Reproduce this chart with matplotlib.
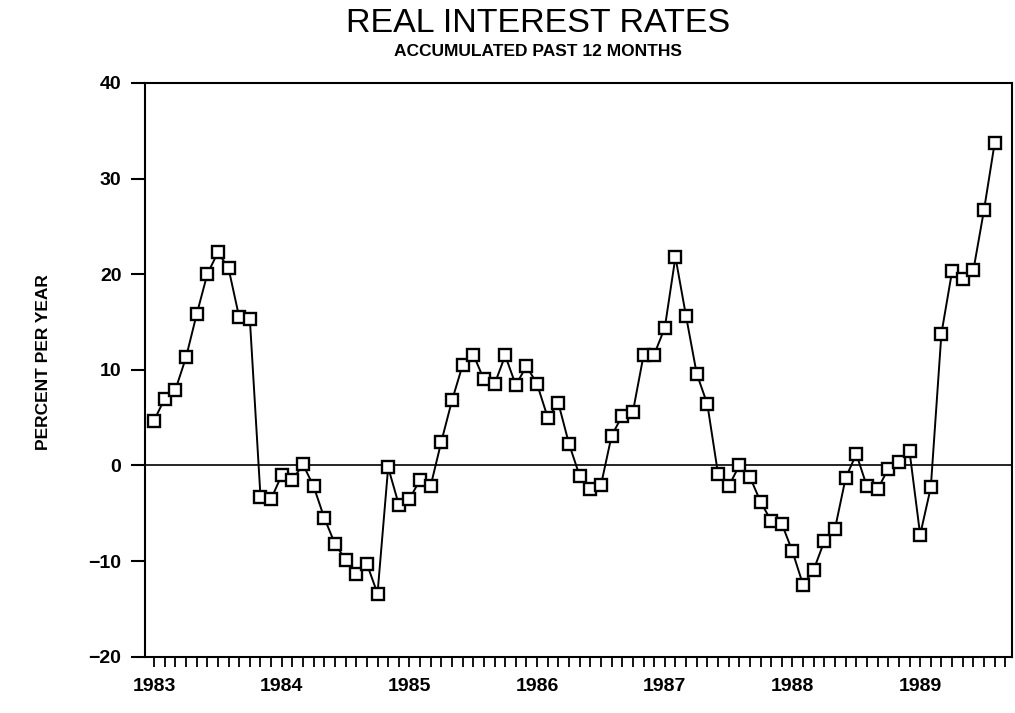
import numpy as np
import matplotlib
matplotlib.use("Agg")
import matplotlib.pyplot as plt
from matplotlib.ticker import FixedLocator

plt.rcParams['font.family'] = ['Liberation Sans', 'DejaVu Sans']

# Monthly real interest rate, accumulated over the past 12 months (Jan 1983 - Aug 1989)
years = ["1983", "1984", "1985", "1986", "1987", "1988", "1989"]
rate_1983 = [4.7, 7.0, 7.9, 11.3, 15.8, 20.0, 22.3, 20.6, 15.5, 15.3, -3.25, -3.5]
rate_1984 = [-1.0, -1.5, 0.1, -2.2, -5.5, -8.2, -9.85, -11.4, -10.3, -13.4, -0.2, -4.1]
rate_1985 = [-3.5, -1.5, -2.1, 2.5, 6.8, 10.5, 11.6, 9.0, 8.5, 11.5, 8.4, 10.4]
rate_1986 = [8.5, 5.0, 6.5, 2.25, -1.1, -2.5, -2.05, 3.1, 5.2, 5.6, 11.5, 11.6]
rate_1987 = [14.4, 21.8, 15.6, 9.6, 6.4, -0.85, -2.2, 0.0, -1.2, -3.8, -5.8, -6.1]
rate_1988 = [-9.0, -12.5, -10.9, -7.9, -6.6, -1.3, 1.2, -2.2, -2.5, -0.35, 0.4, 1.5]
rate_1989 = [-7.25, -2.3, 13.8, 20.3, 19.5, 20.4, 26.7, 33.7]

rates = np.array(rate_1983 + rate_1984 + rate_1985 + rate_1986 +
                 rate_1987 + rate_1988 + rate_1989)
months = np.arange(len(rates))

fig = plt.figure(figsize=(10.15, 7.13), dpi=100)
ax = fig.add_axes([0.1429, 0.079, 0.8538, 0.8046])

ax.axhline(0, color='black', lw=1.2, zorder=1)
ax.plot(months, rates, color='black', lw=1.4, marker='s', markersize=8,
        markerfacecolor='white', markeredgecolor='black', markeredgewidth=1.7,
        zorder=2)

ax.set_xlim(-0.85, 80.6)
ax.set_ylim(-20, 40)

# Year labels on January, a tick for every month
ax.xaxis.set_major_locator(FixedLocator(np.arange(0, 12 * len(years), 12)))
ax.set_xticklabels(years)
ax.xaxis.set_minor_locator(FixedLocator([m for m in range(-1, 81) if m % 12 != 0]))
ax.tick_params(axis='x', which='both', direction='out', length=7, width=1.3,
               pad=8, labelsize=14)
ax.set_yticks([-20, -10, 0, 10, 20, 30, 40])
ax.set_yticklabels(["\u221220", "\u221210", "0", "10", "20", "30", "40"])
ax.tick_params(axis='y', direction='out', length=10, width=1.5, pad=7,
               labelsize=14)
for lab in ax.get_xticklabels() + ax.get_yticklabels():
    lab.set_fontweight('bold')

for sp in ax.spines.values():
    sp.set_linewidth(1.5)

fig.text(44 / 1015, 1 - 362 / 713, "PERCENT PER YEAR", rotation=90,
         ha='center', va='center', fontsize=12.5, fontweight='bold')
fig.text(538 / 1015, 1 - 24 / 713, "REAL INTEREST RATES", ha='center',
         va='center', fontsize=24.5, fontweight='normal')
fig.text(538 / 1015, 1 - 51 / 713, "ACCUMULATED PAST 12 MONTHS", ha='center',
         va='center', fontsize=12.5, fontweight='bold')

fig.savefig("out.png", dpi=100, facecolor='white')
